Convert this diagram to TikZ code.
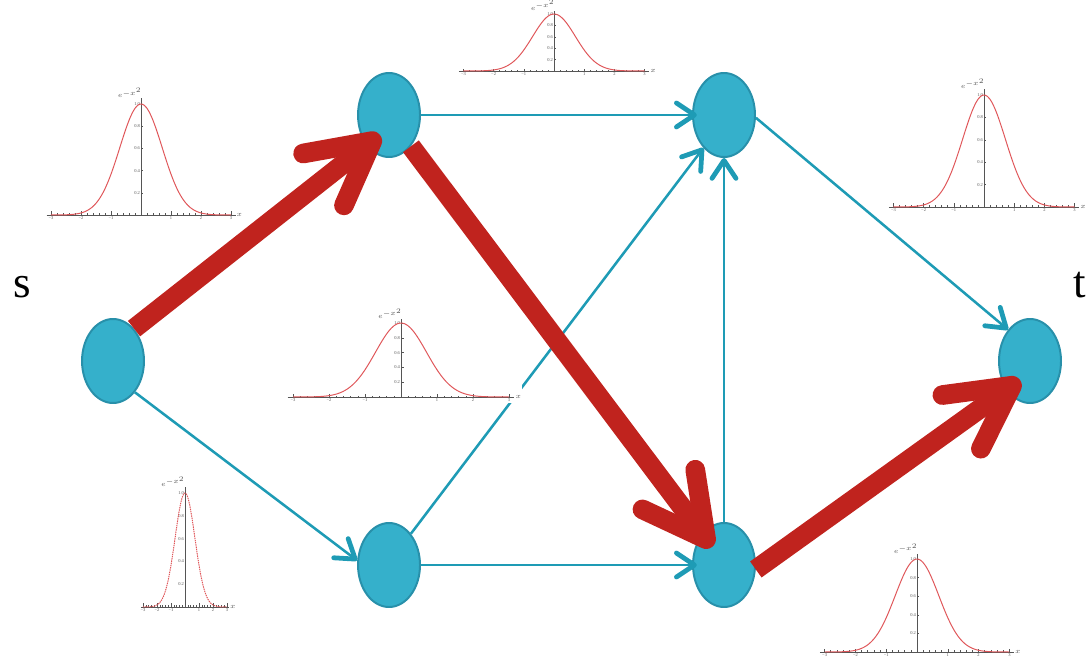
\documentclass[tikz,border=0pt]{standalone}
\usepackage{fontspec}
\setmainfont{Liberation Serif}
\usetikzlibrary{arrows.meta,shapes.geometric}
\definecolor{cyanfill}{HTML}{35B0CB}
\definecolor{cyanedge}{HTML}{2890AA}
\definecolor{flowteal}{HTML}{1E9BB5}
\definecolor{pathred}{HTML}{C0231E}
\definecolor{curvered}{HTML}{E0575A}
\definecolor{axisgray}{HTML}{555555}
\tikzset{
  vertex/.style={
    ellipse, draw=cyanedge, fill=cyanfill, line width=1.4pt,
    minimum width=1.55cm, minimum height=2.1cm, inner sep=0pt
  },
  flowedge/.style={
    -{Straight Barb[length=0.45cm, width=0.6cm, line width=3.4pt, round]},
    draw=flowteal, line width=1.8pt
  },
  pathedge/.style={
    -{Straight Barb[length=1.55cm, width=1.65cm, round]},
    draw=pathred, line width=14pt
  },
  termlabel/.style={font=\fontsize{32}{36}\selectfont, inner sep=0pt},
  ticklabel/.style={font=\fontsize{3.2}{3.5}\selectfont, text=axisgray, inner sep=0.6pt},
  axisline/.style={draw=axisgray, line width=0.4pt},
  gausscurve/.style={draw=curvered, line width=0.7pt},
  pics/gauss/.style={code={
    \fill[white] (-3.3,-0.08) rectangle (3.36,1.15);
    % axes and ticks
    \draw[axisline] (-3.15,0) -- (3.15,0);
    \draw[axisline] (0,0) -- (0,1.05);
    \foreach \k in {-3,...,3} \draw[axisline] (\k,0) -- (\k,0.035);
    \foreach \k in {-3.0,-2.8,...,3.0} \draw[axisline] (\k,0) -- (\k,0.018);
    \foreach \k in {0.2,0.4,...,1.0} \draw[axisline] (0,\k) -- (0.07,\k);
    \foreach \k in {0.05,0.1,...,1.0} \draw[axisline] (0,\k) -- (0.035,\k);
    \foreach \k/\lbl in {-3/−3,-2/−2,-1/−1,1/1,2/2,3/3}
      \node[ticklabel, below] at (\k,0) {\lbl};
    \foreach \k in {0.2,0.4,0.6,0.8,1.0}
      \node[ticklabel, left] at (0,\k) {\k};
    \node[ticklabel, above left, inner sep=0.2pt, font=\fontsize{2.6}{3}\selectfont] at (0.05,1.05) {$e^{-x^2}$};
    \node[ticklabel, right] at (3.15,0) {$x$};
    % curve
    \draw[gausscurve] plot[domain=-3:3, samples=80, smooth] (\x,{exp(-(\x)*(\x))});
  }}
}
\begin{document}
\begin{tikzpicture}
  \useasboundingbox (0,0) rectangle (27.2,16.475);

  % vertices
  \node[vertex] (src) at (2.825,7.45) {};
  \node[vertex] (up1) at (9.725,13.6) {};
  \node[vertex] (low1) at (9.725,2.35) {};
  \node[vertex] (up2) at (18.1,13.6) {};
  \node[vertex] (low2) at (18.1,2.35) {};
  \node[vertex] (sink) at (25.75,7.45) {};
  \node[termlabel, anchor=base west] (slabel) at (0.325,9.025) {s};
  \node[termlabel, anchor=base east] (tlabel) at (27.15,9.025) {t};

  % network edges
  \draw[flowedge] (src.-55) -- (low1.172);
  \draw[flowedge] (up1.east) -- ([xshift=0.12cm]up2.west);
  \draw[flowedge] (low1.east) -- ([xshift=0.12cm]low2.west);
  \draw[flowedge] (low1.55) -- (up2.238);
  \draw[flowedge] (low2.north) -- (up2.south);
  \draw[flowedge] (up2.-5) -- (sink.125);

  % edge distributions
  \pic[xscale=0.75, yscale=2.775] at (3.525,11.1) {gauss};
  \pic[xscale=0.35, yscale=2.85, gausscurve/.append style={dash pattern=on 1pt off 0.6pt}] at (4.625,1.3) {gauss};
  \pic[xscale=0.755, yscale=1.425] at (13.85,14.7) {gauss};
  \pic[xscale=0.9, yscale=1.85] at (10.025,6.55) {gauss};
  \pic[xscale=0.755, yscale=2.8] at (24.6,11.3) {gauss};
  \pic[xscale=0.77, yscale=2.325] at (22.925,0.175) {gauss};

  % highlighted path
  \draw[pathedge] (src.57) -- ([xshift=-0.225cm,yshift=-0.5cm]up1.center);
  \draw[pathedge] (up1.-55) -- ([xshift=-0.3cm,yshift=0.45cm]low2.center);
  \draw[pathedge] (low2.-8) -- ([xshift=-0.25cm,yshift=-0.475cm]sink.center);
\end{tikzpicture}
\end{document}
